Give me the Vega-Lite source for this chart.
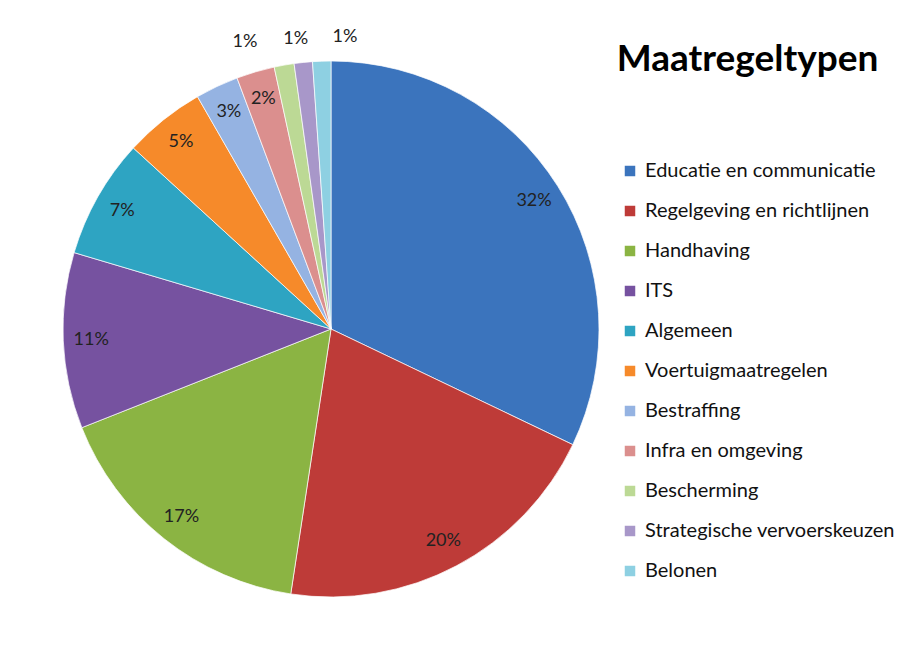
{
  "$schema": "https://vega.github.io/schema/vega-lite/v6.json",
  "autosize": "none",
  "width": 646,
  "height": 636,
  "padding": {"left": 8, "top": 11, "right": 252, "bottom": 6},
  "background": "white",
  "config": {"view": {"stroke": null}, "font": "Lato"},
  "title": {
    "text": "Maatregeltypen",
    "anchor": "middle",
    "frame": "group",
    "baseline": "alphabetic",
    "offset": 0,
    "dx": 416.5,
    "dy": 97,
    "font": "Lato",
    "fontSize": 37,
    "fontWeight": "bold",
    "color": "#000000"
  },
  "data": {
    "values": [
      {"idx": 1, "Maatregeltype": "Educatie en communicatie", "pct": 32.1, "label": "32%"},
      {"idx": 2, "Maatregeltype": "Regelgeving en richtlijnen", "pct": 20.3, "label": "20%"},
      {"idx": 3, "Maatregeltype": "Handhaving", "pct": 16.6, "label": "17%"},
      {"idx": 4, "Maatregeltype": "ITS", "pct": 10.6, "label": "11%"},
      {"idx": 5, "Maatregeltype": "Algemeen", "pct": 7.2, "label": "7%"},
      {"idx": 6, "Maatregeltype": "Voertuigmaatregelen", "pct": 4.9, "label": "5%"},
      {"idx": 7, "Maatregeltype": "Bestraffing", "pct": 2.6, "label": "3%"},
      {"idx": 8, "Maatregeltype": "Infra en omgeving", "pct": 2.3, "label": "2%"},
      {"idx": 9, "Maatregeltype": "Bescherming", "pct": 1.2, "label": "1%"},
      {"idx": 10, "Maatregeltype": "Strategische vervoerskeuzen", "pct": 1.1, "label": "1%"},
      {"idx": 11, "Maatregeltype": "Belonen", "pct": 1.1, "label": "1%"}
    ]
  },
  "encoding": {
    "theta": {"field": "pct", "type": "quantitative", "stack": true},
    "order": {"field": "idx", "type": "quantitative"}
  },
  "layer": [
    {
      "mark": {"type": "arc", "outerRadius": 268, "stroke": "#ffffff", "strokeWidth": 1, "strokeOpacity": 0.7},
      "encoding": {
        "color": {
          "field": "Maatregeltype",
          "type": "nominal",
          "scale": {
            "domain": ["Educatie en communicatie", "Regelgeving en richtlijnen", "Handhaving", "ITS", "Algemeen", "Voertuigmaatregelen", "Bestraffing", "Infra en omgeving", "Bescherming", "Strategische vervoerskeuzen", "Belonen"],
            "range": ["#3B74BD", "#BE3B38", "#8BB443", "#7652A0", "#2EA4C2", "#F68A2A", "#95B3E2", "#DB8F8E", "#BCD995", "#A897C9", "#8ED0E2"]
          },
          "legend": {
            "title": null,
            "orient": "none",
            "legendX": 612,
            "legendY": 150,
            "padding": 0,
            "symbolType": "square",
            "symbolSize": 110,
            "symbolStrokeWidth": 0,
            "labelFont": "Lato",
            "labelFontSize": 20,
            "labelColor": "#111111",
            "labelOffset": 5,
            "labelLimit": 400,
            "rowPadding": 20
          }
        }
      }
    },
    {
      "mark": {
        "type": "text",
        "font": "Lato",
        "fontSize": 18,
        "color": "#222222",
        "radius": {"expr": "datum.pct < 1.5 ? 292 : 240"},
        "dx": {"expr": "datum.Maatregeltype == 'Bescherming' ? -35 : datum.Maatregeltype == 'Strategische vervoerskeuzen' ? -5 : datum.Maatregeltype == 'Belonen' ? 24 : 0"}
      },
      "encoding": {
        "text": {"field": "label", "type": "nominal"}
      }
    }
  ]
}
